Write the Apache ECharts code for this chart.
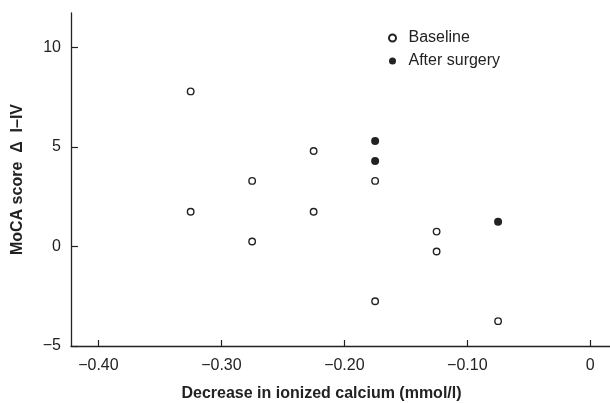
<!DOCTYPE html>
<html>
<head>
<meta charset="utf-8">
<script src="https://cdn.jsdelivr.net/npm/echarts@6/dist/echarts.min.js"></script>
<style>
  html, body { margin: 0; padding: 0; background: #fff; }
  #main { width: 610px; height: 403px; }
</style>
</head>
<body>
<div id="main"></div>
<script>
// data
var baselineX = [-0.325, -0.325, -0.275, -0.275, -0.225, -0.225, -0.175, -0.175, -0.125, -0.125, -0.075];
var baselineY = [7.8, 1.75, 3.3, 0.25, 4.8, 1.75, 3.3, -2.75, 0.75, -0.25, -3.75];
var surgeryX = [-0.175, -0.175, -0.075];
var surgeryY = [5.3, 4.3, 1.25];

var xTicks = [-0.4, -0.3, -0.2, -0.1, 0];
var xTickLabels = ['\u22120.40', '\u22120.30', '\u22120.20', '\u22120.10', '0'];
var yTicks = [-5, 0, 5, 10];
var yTickLabels = ['\u22125', '0', '5', '10'];

function pairs(xs, ys) {
  var out = [];
  for (var i = 0; i < xs.length; i++) {
    out.push([xs[i], ys[i]]);
  }
  return out;
}

var font = '"Liberation Sans", Arial, Helvetica, sans-serif';
var ink = '#222';

var myChart = echarts.init(document.getElementById('main'));

var option = {
  animation: false,
  backgroundColor: '#fff',
  textStyle: { fontFamily: font },
  grid: { left: 71, top: 13, right: 0, bottom: 57, containLabel: false, outerBoundsMode: 'none' },
  legend: {
    orient: 'vertical',
    left: 383,
    top: 25,
    itemWidth: 22,
    itemHeight: 7,
    itemGap: 7,
    textStyle: { fontSize: 16, color: ink, fontFamily: font },
    data: ['Baseline', 'After surgery']
  },
  xAxis: {
    type: 'value',
    min: -0.4223,
    max: 0.016,
    name: 'Decrease in ionized calcium (mmol/l)',
    nameLocation: 'middle',
    nameGap: 40,
    nameTextStyle: { fontSize: 16, fontWeight: 'bold', color: ink, padding: [0, 38, 0, 0] },
    axisLine: { onZero: false, lineStyle: { color: ink, width: 1.3 } },
    axisTick: { inside: true, length: 6, customValues: xTicks, lineStyle: { color: ink, width: 1.2 } },
    axisLabel: {
      customValues: xTicks,
      margin: 12,
      fontSize: 16,
      color: ink,
      formatter: function (v) {
        for (var i = 0; i < xTicks.length; i++) {
          if (Math.abs(xTicks[i] - v) < 1e-9) return xTickLabels[i];
        }
        return '';
      }
    },
    splitLine: { show: false }
  },
  yAxis: {
    type: 'value',
    min: -5,
    max: 11.74,
    name: 'MoCA score  \u0394  I\u2013IV',
    nameLocation: 'middle',
    nameGap: 45,
    nameTextStyle: { fontSize: 16, fontWeight: 'bold', color: ink },
    axisLine: { show: true, onZero: false, lineStyle: { color: ink, width: 1.3 } },
    axisTick: { show: true, inside: true, length: 7, customValues: yTicks, lineStyle: { color: ink, width: 1.2 } },
    axisLabel: {
      customValues: yTicks,
      margin: 10,
      fontSize: 16,
      color: ink,
      formatter: function (v) {
        for (var i = 0; i < yTicks.length; i++) {
          if (Math.abs(yTicks[i] - v) < 1e-9) return yTickLabels[i];
        }
        return '';
      }
    },
    splitLine: { show: false }
  },
  series: [
    {
      name: 'Baseline',
      type: 'scatter',
      symbol: 'circle',
      symbolSize: 6.5,
      itemStyle: { color: '#fff', borderColor: ink, borderWidth: 1.4, opacity: 1 },
      data: pairs(baselineX, baselineY)
    },
    {
      name: 'After surgery',
      type: 'scatter',
      symbol: 'circle',
      symbolSize: 8,
      itemStyle: { color: ink, borderColor: ink, borderWidth: 0, opacity: 1 },
      data: pairs(surgeryX, surgeryY)
    }
  ]
};

myChart.setOption(option);
</script>
</body>
</html>
